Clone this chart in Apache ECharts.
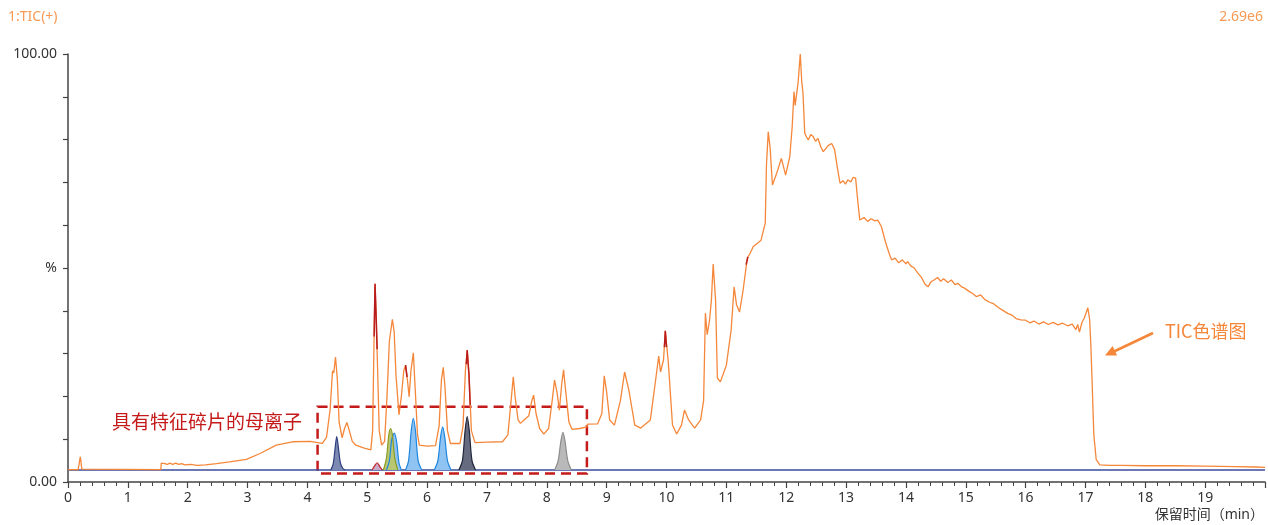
<!DOCTYPE html>
<html>
<head>
<meta charset="utf-8">
<script src="https://cdn.jsdelivr.net/npm/echarts@6/dist/echarts.min.js"></script>
<style>
html,body{margin:0;padding:0;background:#fff;}
#chart{width:1268px;height:525px;}
</style>
</head>
<body>
<div id="chart"></div>
<script>
// ---- data (retention time in min, relative intensity in %) ----
const xTickLabels = ['0','1','2','3','4','5','6','7','8','9','10','11','12','13','14','15','16','17','18','19'];
const yTickLabels = {0:'0.00', 50:'%', 100:'100.00'};

const tic = [
 [0,2.9],[0.17,2.9],[0.19,3.3],[0.205,5.9],[0.215,5.0],[0.23,3.0],[0.26,2.9],[1.55,2.9],
 [1.56,4.4],[1.62,4.3],[1.66,4.1],[1.70,4.4],[1.75,4.1],[1.80,4.4],[1.85,4.1],[1.90,4.3],[1.95,4.0],
 [2.05,4.1],[2.15,3.9],[2.3,4.0],[2.48,4.3],[2.7,4.7],[2.98,5.3],[3.2,6.6],[3.48,8.6],[3.75,9.4],
 [4.05,9.5],[4.17,9.2],[4.25,9.0],[4.32,10.5],[4.38,17],[4.42,26],[4.44,25.5],[4.47,29.2],[4.50,24],
 [4.53,14],[4.58,10.3],[4.62,12.5],[4.66,13.9],[4.70,12.0],[4.75,9.5],[4.81,8.6],[4.95,7.9],[5.06,7.5],
 [5.09,12],[5.11,30],[5.13,46.3],[5.15,38],[5.17,28],[5.20,12],[5.24,8.6],[5.29,9.5],[5.33,20],
 [5.37,33],[5.42,38.0],[5.45,35],[5.48,25],[5.53,15.7],[5.57,20],[5.61,26],[5.64,27.3],[5.67,24],
 [5.70,19.9],[5.73,26],[5.77,30.2],[5.80,22],[5.84,11],[5.87,8.6],[6.0,8.4],[6.14,8.5],[6.20,13],
 [6.24,24],[6.27,26.8],[6.30,22],[6.34,12],[6.39,9.0],[6.55,9.0],[6.60,13],[6.64,26],[6.67,30.8],
 [6.70,25],[6.74,12],[6.80,9.2],[7.0,9.3],[7.26,9.4],[7.35,11],[7.41,20],[7.44,24.6],[7.47,20],
 [7.52,14.5],[7.56,13.7],[7.62,14.5],[7.70,15.5],[7.75,19],[7.78,20.3],[7.82,16],[7.88,12.5],[7.95,11.2],
 [8.03,12.5],[8.09,19],[8.13,23.8],[8.17,21],[8.21,16.8],[8.25,23],[8.28,26.2],[8.31,22],[8.37,14],
 [8.42,12.3],[8.55,12.5],[8.67,12.9],[8.68,13.5],[8.85,13.6],[8.92,16],[8.96,24.8],[9.0,21],[9.05,14.5],
 [9.13,13.3],[9.23,19],[9.30,25.7],[9.37,21.5],[9.47,13.3],[9.57,12.6],[9.73,14.5],[9.82,24],[9.87,29.4],
 [9.90,25.7],[9.95,28.5],[9.98,35.3],[10.03,28],[10.10,13.3],[10.17,11.2],[10.25,13.3],[10.30,16.8],
 [10.37,14.5],[10.47,12.6],[10.57,14.5],[10.62,19],[10.65,39.5],[10.68,34.4],[10.72,37.9],[10.75,42.5],
 [10.78,50.9],[10.82,42.5],[10.85,24.3],[10.90,23.4],[11.0,27.3],[11.08,35.5],[11.13,45.6],[11.17,41.4],
 [11.22,39.7],[11.28,44.8],[11.35,52.3],[11.40,53.5],[11.45,55],[11.52,55.8],[11.58,56.5],[11.65,60.5],
 [11.67,74],[11.70,81.8],[11.73,78.3],[11.77,69.4],[11.84,72.1],[11.92,75.6],[11.99,71.7],[12.06,76],
 [12.10,83],[12.13,91.2],[12.15,88],[12.20,93.5],[12.235,100],[12.26,93.5],[12.28,91],[12.31,81.5],
 [12.34,80.6],[12.37,79.9],[12.41,81.2],[12.45,80.7],[12.49,79.6],[12.53,80.3],[12.58,78.2],[12.62,77.2],
 [12.70,78.6],[12.76,79.1],[12.81,77.6],[12.86,73],[12.90,69.8],[12.95,70.4],[12.99,69.6],[13.03,70.6],
 [13.08,70.1],[13.12,71.2],[13.16,71],[13.20,65],[13.23,61.2],[13.30,61.8],[13.36,60.9],[13.42,61.5],
 [13.48,61.0],[13.53,61.2],[13.59,59.7],[13.66,56],[13.72,53.4],[13.76,51.9],[13.82,52.3],[13.88,51.2],
 [13.94,51.9],[14.0,51.0],[14.03,51.5],[14.08,50.5],[14.14,50.0],[14.2,48.8],[14.26,47.8],[14.32,46.2],
 [14.37,45.6],[14.42,46.8],[14.47,47.2],[14.53,47.8],[14.58,46.9],[14.63,47.5],[14.70,46.6],[14.76,47.2],
 [14.82,46.1],[14.87,46.4],[14.93,45.6],[14.98,45.3],[15.05,44.6],[15.12,44.0],[15.18,43.3],[15.25,43.7],
 [15.32,42.6],[15.40,42.0],[15.47,41.6],[15.55,40.7],[15.62,40.1],[15.70,39.4],[15.77,39.0],[15.84,38.2],
 [15.92,37.9],[16.0,37.8],[16.07,37.2],[16.14,37.6],[16.22,36.9],[16.30,37.4],[16.38,36.8],[16.46,37.3],
 [16.54,36.7],[16.62,37.1],[16.70,36.5],[16.78,36.9],[16.84,35.6],[16.87,36.8],[16.90,35.0],[16.94,37.2],
 [16.98,38.3],[17.01,39.5],[17.04,40.7],[17.07,38.0],[17.09,32],[17.11,24],[17.14,11],[17.18,5.2],
 [17.24,4.0],[17.40,3.9],[17.60,3.9],[18.0,3.8],[18.5,3.8],[19.0,3.7],[19.5,3.6],[19.85,3.5],[20,3.4]
];

// darker red segments on top of the TIC line
const ticRed1 = [[5.115,34],[5.13,46.3],[5.15,38],[5.165,31]];
const ticRed2 = [[5.64,27.3],[5.665,24.5]];
const ticRed3 = [[6.655,27.5],[6.67,30.8],[6.70,25],[6.72,18]];
const ticRed4 = [[9.965,31.5],[9.98,35.3],[10.0,31.5]];
const ticRed5 = [[11.33,50.8],[11.36,52.6]];

const baseline = [[0,2.8],[20,2.8]];

// extracted ion peaks (parent ions with characteristic fragments)
const peakNavy  = [[4.39,2.8],[4.43,4.2],[4.46,7.5],[4.49,10.6],[4.52,7.8],[4.55,4.6],[4.59,3.2],[4.63,2.8]];
const peakRed   = [[5.08,2.8],[5.12,3.7],[5.165,4.5],[5.21,3.6],[5.25,2.8]];
const peakGreen = [[5.27,2.8],[5.32,5.5],[5.36,11],[5.39,12.5],[5.42,11],[5.46,5.5],[5.51,2.8]];
const peakBlue1 = [[5.32,2.8],[5.37,5],[5.41,10],[5.45,11.4],[5.49,9.5],[5.53,4.5],[5.57,2.8]];
const peakBlue2 = [[5.64,2.8],[5.69,5],[5.735,12],[5.77,14.9],[5.805,12],[5.85,5],[5.91,2.8]];
const peakBlue3 = [[6.12,2.8],[6.18,5],[6.225,10.5],[6.26,12.9],[6.295,10.5],[6.34,5],[6.40,2.8]];
const peakDark  = [[6.53,2.8],[6.59,5],[6.635,12],[6.67,15.3],[6.705,12],[6.75,5],[6.81,2.8]];
const peakGray  = [[8.13,2.8],[8.19,5],[8.235,9.5],[8.27,11.6],[8.305,9.5],[8.35,5],[8.41,2.8]];

// annotation box in data coordinates [t, %]
const boxCorners = [[4.17,17.6],[8.67,2.0]];

const FONT = '"Noto Sans", "Noto Sans CJK SC", sans-serif';
const ORANGE = '#f5873a';

function lineSeries(data, color, width, z) {
  return {type:'line', data:data, showSymbol:false, symbol:'none', silent:true,
    lineStyle:{color:color, width:width}, z:z, animation:false};
}
function peakSeries(data, stroke, fill) {
  return {type:'line', data:data, showSymbol:false, symbol:'none', silent:true, smooth:0.3,
    lineStyle:{color:stroke, width:1.2}, areaStyle:{color:fill, opacity:1, origin:2.8}, z:6, animation:false};
}

const chart = echarts.init(document.getElementById('chart'), null, {renderer:'canvas'});
chart.setOption({
  animation:false,
  backgroundColor:'#ffffff',
  grid:{left:68, right:0, top:54, bottom:43, containLabel:false},
  xAxis:{
    type:'value', min:0, max:20, interval:1,
    axisLine:{show:true, onZero:false, lineStyle:{color:'#444', width:1.5}},
    axisTick:{show:true, inside:false, length:6, lineStyle:{color:'#444', width:1.2}},
    minorTick:{show:true, splitNumber:5, length:4, lineStyle:{color:'#444', width:1}},
    splitLine:{show:false},
    axisLabel:{margin:9, fontSize:14, color:'#333', fontFamily:FONT,
      formatter:function(v){ return xTickLabels[Math.round(v)] !== undefined ? xTickLabels[Math.round(v)] : ''; }}
  },
  yAxis:{
    type:'value', min:0, max:100, interval:10,
    axisLine:{show:true, lineStyle:{color:'#444', width:1.5}},
    axisTick:{show:true, inside:false, length:5, lineStyle:{color:'#444', width:1.2}},
    splitLine:{show:false},
    axisLabel:{margin:11, fontSize:14, color:'#333', fontFamily:FONT,
      formatter:function(v){ return yTickLabels[Math.round(v)] || ''; }}
  },
  series:[
    Object.assign(lineSeries(baseline, '#3b4a9c', 1.5, 3), {
      markArea:{silent:true, itemStyle:{color:'rgba(0,0,0,0)', borderColor:'#c41a1a', borderWidth:2.5, borderType:[10,6]},
        data:[[{coord:boxCorners[0]},{coord:boxCorners[1]}]]}
    }),
    lineSeries(tic, ORANGE, 1.3, 4),
    lineSeries(ticRed1, '#b81c1c', 1.5, 5),
    lineSeries(ticRed2, '#b81c1c', 1.5, 5),
    lineSeries(ticRed3, '#b81c1c', 1.5, 5),
    lineSeries(ticRed4, '#b81c1c', 1.5, 5),
    lineSeries(ticRed5, '#b81c1c', 1.5, 5),
    peakSeries(peakNavy, '#2d3f7e', '#7c89b2'),
    peakSeries(peakRed, '#c22a2e', '#c9a8c8'),
    peakSeries(peakBlue1, '#1f86e0', '#8fc3f2'),
    peakSeries(peakGreen, '#8c9b22', '#b9c772'),
    peakSeries(peakBlue2, '#1f86e0', '#8fc3f2'),
    peakSeries(peakBlue3, '#1f86e0', '#8fc3f2'),
    peakSeries(peakDark, '#1f2438', '#666b80'),
    peakSeries(peakGray, '#8c8c8c', '#b9b9b9')
  ],
  graphic:[
    {type:'text', left:8, top:10, style:{text:'1:TIC(+)', fill:'#f79a55', font:'14px '+FONT}},
    {type:'text', right:5, top:10, style:{text:'2.69e6', fill:'#f79a55', font:'14px '+FONT}},
    {type:'text', right:4, top:508, style:{text:'保留时间（min）', fill:'#333', font:'14px '+FONT}},
    {type:'text', x:112, y:412, style:{text:'具有特征碎片的母离子', fill:'#c41a1a', font:'19px "Noto Sans CJK SC", sans-serif'}},
    {type:'text', x:1165, y:322, style:{text:'TIC色谱图', fill:ORANGE, font:'18px "Noto Sans CJK SC", sans-serif'}},
    {type:'line', shape:{x1:1153, y1:333, x2:1114, y2:351.5}, style:{stroke:ORANGE, lineWidth:2.5}},
    {type:'polygon', shape:{points:[[1105,355.5],[1117.1,355.5],[1112.6,346.0]]}, style:{fill:ORANGE}}
  ]
});
</script>
</body>
</html>
